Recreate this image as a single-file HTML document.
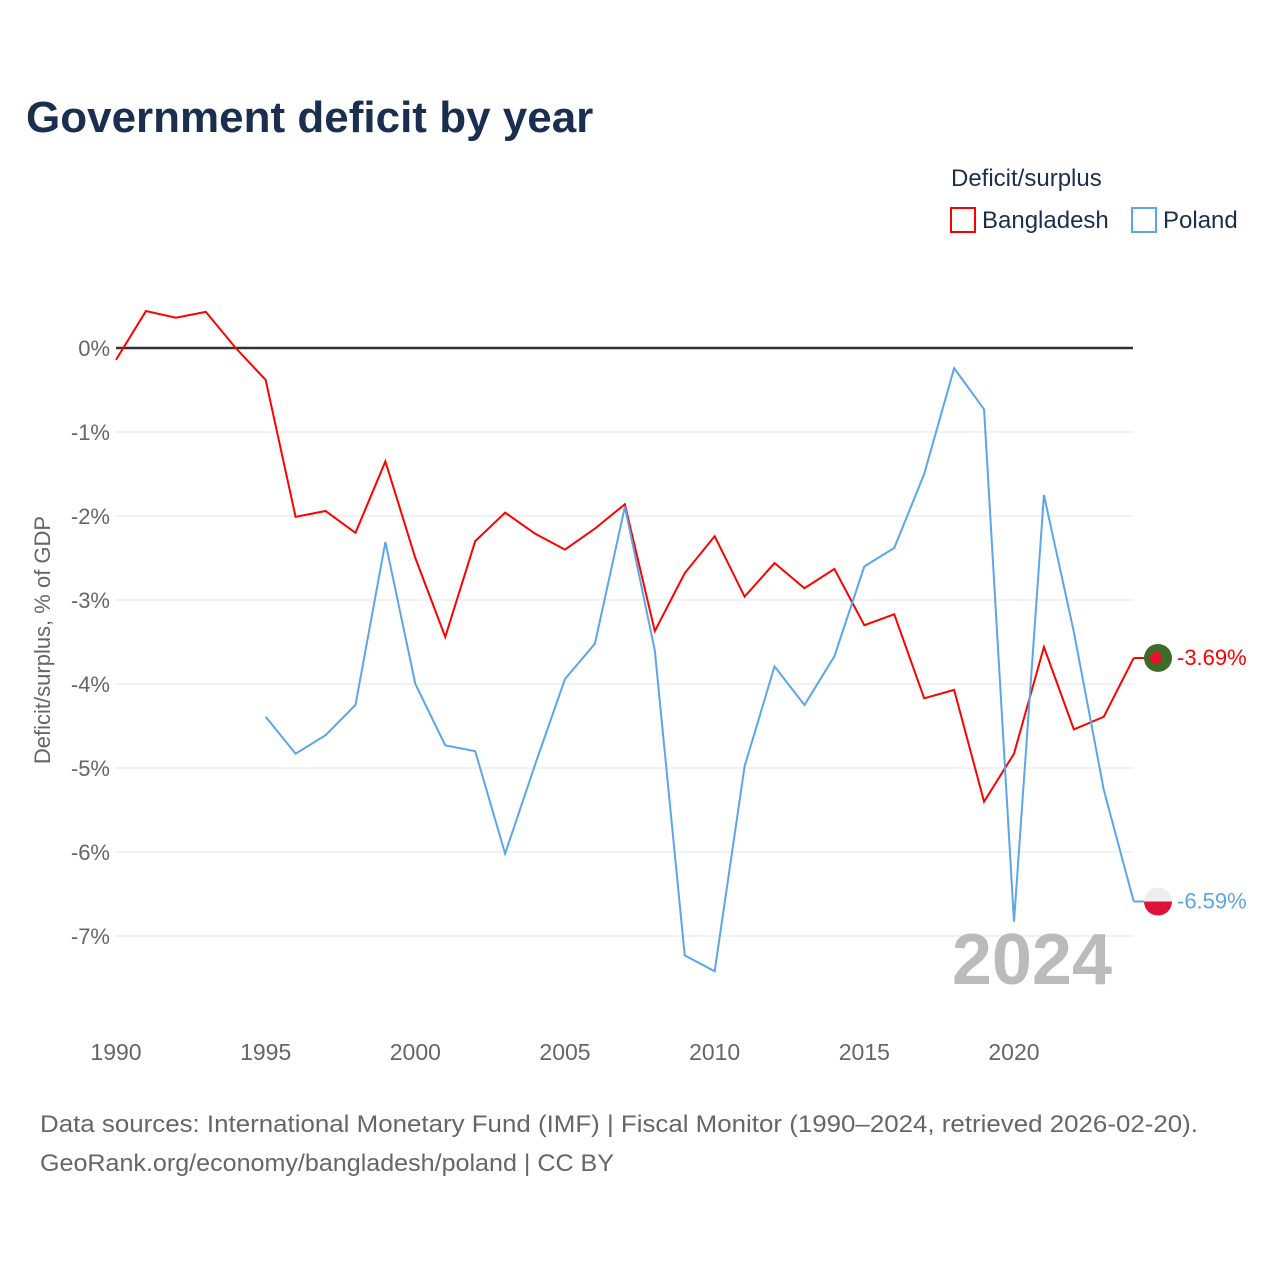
<!DOCTYPE html>
<html><head><meta charset="utf-8"><style>
body{margin:0;background:#fff;font-family:"Liberation Sans",sans-serif}
svg text{font-family:"Liberation Sans",sans-serif}
</style></head><body>
<svg id="chart" width="1280" height="1280" viewBox="0 0 1280 1280">
<text x="26" y="132" font-size="44" font-weight="bold" fill="#1a2e4f">Government deficit by year</text>
<text x="951" y="186" font-size="24" fill="#1a2e4f">Deficit/surplus</text>
<g><rect x="951" y="208" width="24" height="24" fill="none" stroke="#ff0000" stroke-width="2"/><text x="982" y="228" font-size="24" fill="#1a2e4f">Bangladesh</text></g>
<g><rect x="1132" y="208" width="24" height="24" fill="none" stroke="#5ba6ea" stroke-width="2"/><text x="1163" y="228" font-size="24" fill="#1a2e4f">Poland</text></g>
<g id="grid"></g><g id="xt"></g>
<text transform="translate(50,640) rotate(-90)" text-anchor="middle" font-size="22" fill="#666">Deficit/surplus, % of GDP</text>
<text x="1112" y="984" text-anchor="end" font-size="72" font-weight="bold" fill="#bbb">2024</text>
<g id="series"></g>
<text x="40" y="1132" font-size="24" fill="#666" textLength="1158" lengthAdjust="spacingAndGlyphs">Data sources: International Monetary Fund (IMF) | Fiscal Monitor (1990–2024, retrieved 2026-02-20).</text>
<text x="40" y="1171" font-size="24" fill="#666" textLength="574" lengthAdjust="spacingAndGlyphs">GeoRank.org/economy/bangladesh/poland | CC BY</text>
</svg>
<script>
const years=[];for(let y=1990;y<=2024;y++)years.push(y);
const bangladesh=[-0.14,0.44,0.36,0.43,0.0,-0.38,-2.01,-1.94,-2.2,-1.35,-2.5,-3.44,-2.3,-1.96,-2.21,-2.4,-2.15,-1.86,-3.37,-2.68,-2.24,-2.96,-2.56,-2.86,-2.63,-3.3,-3.17,-4.17,-4.07,-5.4,-4.83,-3.56,-4.54,-4.39,-3.69];
const poland=[null,null,null,null,null,-4.39,-4.83,-4.61,-4.25,-2.31,-4.0,-4.73,-4.8,-6.02,-4.96,-3.94,-3.52,-1.89,-3.6,-7.23,-7.42,-4.98,-3.79,-4.25,-3.67,-2.6,-2.38,-1.5,-0.24,-0.73,-6.83,-1.75,-3.38,-5.26,-6.59];
const yTicks=[0,-1,-2,-3,-4,-5,-6,-7];
const xTicks=[1990,1995,2000,2005,2010,2015,2020];
const X=y=>116+(y-1990)*29.933, Y=v=>348-v*84;
const NS='http://www.w3.org/2000/svg';
function mk(t,a,p){const e=document.createElementNS(NS,t);for(const k in a)e.setAttribute(k,a[k]);p.appendChild(e);return e;}
const g=document.getElementById('grid');
yTicks.forEach(v=>{
 const l=mk('line',{x1:116,x2:1133,y1:Y(v),y2:Y(v),stroke:v===0?'#333':'#e6e6e6','stroke-width':v===0?2.5:1},g);
 
 
 const t=mk('text',{x:110,y:Y(v)+8,'text-anchor':'end','font-size':22,fill:'#666'},g);t.textContent=v+'%';
 
 
});
const xt=document.getElementById('xt');
xTicks.forEach(v=>{const t=mk('text',{x:X(v),y:1060,'text-anchor':'middle','font-size':23,fill:'#666'},xt);t.textContent=v;
 
 });
const s=document.getElementById('series');
function line(d,c,name){let p='';d.forEach((v,i)=>{if(v===null)return;p+=(p?'L':'M')+X(years[i])+','+Y(v);});
 const e=mk('path',{d:p,fill:'none',stroke:c,'stroke-width':2},s);
 
 
 const last=d[d.length-1];
 mk('line',{x1:X(2024),x2:1150,y1:Y(last),y2:Y(last),stroke:c,'stroke-width':2},s);
 const t=mk('text',{x:1177,y:Y(last)+7,'font-size':22,fill:c},s);t.textContent=last.toFixed(2)+'%';
 
 
}
line(bangladesh,'#ff0000','line-bangladesh');
line(poland,'#5ba6ea','line-poland');
const bl=bangladesh[34],pl=poland[34];
const f1=mk('g',{},s);


mk('circle',{cx:1158,cy:Y(bl),r:14,fill:'#3f6b2a'},f1);mk('circle',{cx:1156,cy:Y(bl),r:6,fill:'#e8112d'},f1);
const f2=mk('g',{},s);


mk('circle',{cx:1158,cy:Y(pl),r:14,fill:'#eee'},f2);mk('path',{d:`M1144,${Y(pl)} A14,14 0 0 0 1172,${Y(pl)} Z`,fill:'#dc143c'},f2);
</script>
</body></html>
